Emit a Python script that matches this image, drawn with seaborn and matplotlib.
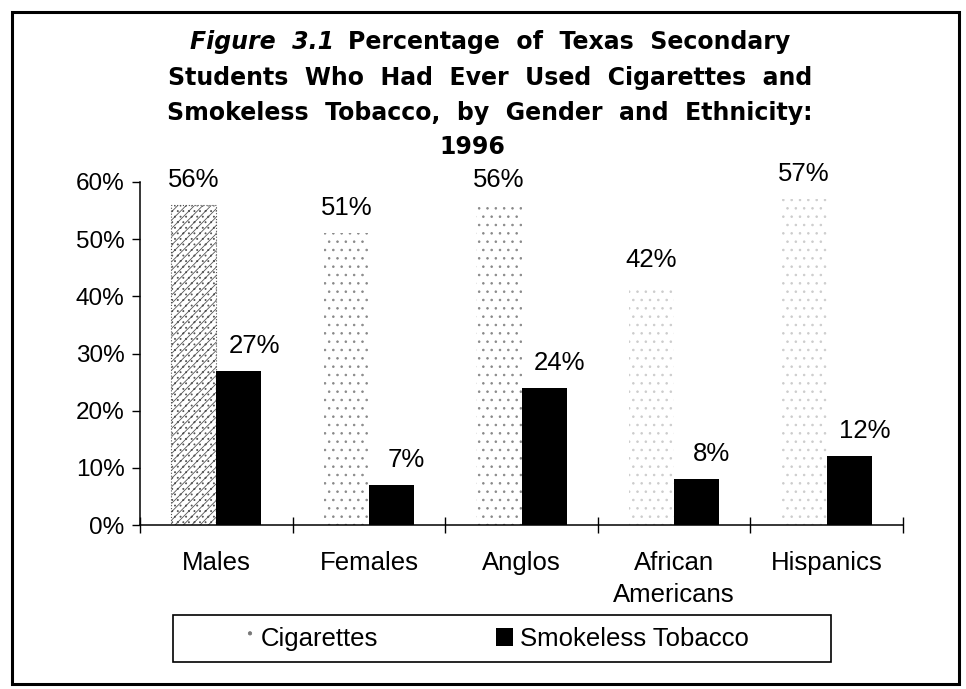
import matplotlib
matplotlib.use("Agg")
import matplotlib.pyplot as plt
from matplotlib.patches import Patch, Rectangle
import pandas as pd
import seaborn as sns

groups = ["Males", "Females", "Anglos", "African\nAmericans", "Hispanics"]
cigarettes = [56, 51, 56, 42, 57]
smokeless = [27, 7, 24, 8, 12]
seriesNames = ["Cigarettes", "Smokeless Tobacco"]
yTicks = [0, 10, 20, 30, 40, 50, 60]
titleHead = "Figure  3.1"
titleLines = [
    "Percentage  of  Texas  Secondary",
    "Students  Who  Had  Ever  Used  Cigarettes  and",
    "Smokeless  Tobacco,  by  Gender  and  Ethnicity:",
    "1996",
]

df = pd.DataFrame({
    "group": groups * 2,
    "series": [seriesNames[0]] * len(groups) + [seriesNames[1]] * len(groups),
    "pct": cigarettes + smokeless,
})

sns.set_theme(style="ticks")
plt.rcParams["font.family"] = ["Liberation Sans", "DejaVu Sans"]
plt.rcParams["hatch.linewidth"] = 0.6
for key in ["text.color", "axes.labelcolor", "xtick.color", "ytick.color", "axes.edgecolor"]:
    plt.rcParams[key] = "black"

W, H = 966, 689
fig = plt.figure(figsize=(W / 100, H / 100), dpi=100)
fig.patch.set_facecolor("white")
ax = fig.add_axes([140 / W, 1 - 525 / H, 763 / W, 343 / H])

sns.barplot(data=df, x="group", y="pct", hue="series", hue_order=seriesNames,
            palette=["white", "black"], saturation=1, width=0.59, gap=0,
            errorbar=None, legend=False, ax=ax)

# speckled fill for the cigarette bars, solid black for smokeless
cigHatches = ["////...", "..", "..", "..", ".."]
cigSpeckle = ["#555555", "#888888", "#888888", "#cccccc", "#cccccc"]
for bar, h, c in zip(ax.containers[0], cigHatches, cigSpeckle):
    bar.set_facecolor("white")
    bar.set_hatch(h)
    bar.set_edgecolor(c)
    bar.set_linewidth(0)
ax.containers[0][0].set_linewidth(0.8)
ax.containers[0][0].set_linestyle(":")
for bar in ax.containers[1]:
    bar.set_facecolor("black")
    bar.set_edgecolor("black")
    bar.set_linewidth(0)

for bar, v in zip(ax.containers[0], cigarettes):
    ax.annotate(f"{v}%", (bar.get_x() + bar.get_width() / 2, v),
                xytext=(0, 13), textcoords="offset points",
                ha="center", va="baseline", fontsize=18.5)
for bar, v in zip(ax.containers[1], smokeless):
    ax.annotate(f"{v}%", (bar.get_x() + bar.get_width() / 2, v),
                xytext=(11, 13), textcoords="offset points",
                ha="center", va="baseline", fontsize=18.5)

ax.set_ylim(0, 60)
ax.set_xlim(-0.5, len(groups) - 0.5)
ax.set_yticks(yTicks)
ax.set_yticklabels([f"{t}%" for t in yTicks])
ax.set_xticks([i - 0.5 for i in range(len(groups) + 1)], minor=True)
ax.set_xlabel("")
ax.set_ylabel("")
ax.tick_params(axis="x", which="major", length=0, pad=19, labelsize=18.5)
ax.tick_params(axis="x", which="minor", direction="inout", length=11, width=1)
ax.tick_params(axis="y", direction="out", length=6, width=1, pad=5, labelsize=17.5)
for lbl in ax.get_xticklabels():
    lbl.set_linespacing(1.4)
sns.despine(ax=ax)
for side in ["left", "bottom"]:
    ax.spines[side].set_linewidth(1.1)

# title: italic figure number + bold text, centred over the chart
renderer = fig.canvas.get_renderer()
titleFont = dict(family="DejaVu Sans", weight="bold", fontsize=17, va="baseline", color="black")
cx = 490
baselines = [49, 85, 120, 154]
head = fig.text(0, 1 - baselines[0] / H, titleHead, style="italic", ha="left", **titleFont)
rest = fig.text(0, 1 - baselines[0] / H, titleLines[0], ha="left", **titleFont)
w1 = head.get_window_extent(renderer).width
w2 = rest.get_window_extent(renderer).width
gap = 14
x0 = cx - (w1 + gap + w2) / 2
head.set_x(x0 / W)
rest.set_x((x0 + w1 + gap) / W)
for line, yb in zip(titleLines[1:], baselines[1:]):
    fig.text(cx / W if line != "1996" else 472 / W, 1 - yb / H, line, ha="center", **titleFont)

handles = [Patch(facecolor="white", edgecolor="#777777", hatch=".", linewidth=0),
           Patch(facecolor="black", edgecolor="black", linewidth=0)]
fig.legend(handles, seriesNames, loc="center left", bbox_to_anchor=(236 / W, 1 - 639 / H),
           ncol=2, frameon=False, fontsize=18.5, handlelength=0.65, handleheight=0.65,
           handletextpad=0.3, columnspacing=4.6, borderpad=0, borderaxespad=0)
fig.add_artist(Rectangle((173 / W, 1 - 662 / H), (831 - 173) / W, 47 / H,
                         transform=fig.transFigure, fill=False, edgecolor="black", linewidth=1.2))
fig.add_artist(Rectangle((12 / W, 1 - 684 / H), (959 - 12) / W, (684 - 12) / H,
                         transform=fig.transFigure, fill=False, edgecolor="black", linewidth=2.2))

fig.savefig("out.png", dpi=100, facecolor="white")
